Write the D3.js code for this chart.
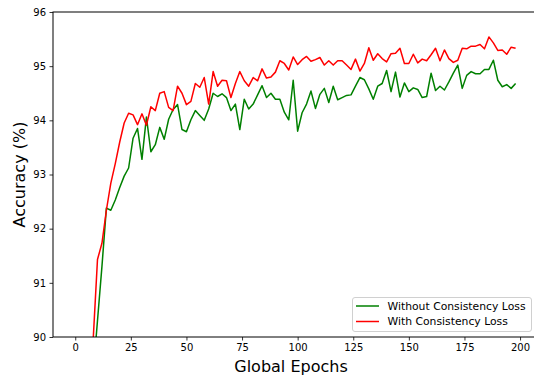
<!DOCTYPE html>
<html>
<head>
<meta charset="utf-8">
<script src="https://cdn.jsdelivr.net/npm/d3@7"></script>
<style>
  body { margin: 0; background: #fff; }
  svg { display: block; font-family: "DejaVu Sans", sans-serif; }
</style>
</head>
<body>
<div id="chart"></div>
<script>

// global epochs, sampled every 2 epochs
var epochs = d3.range(0, 200, 2);

var withoutConsistency = [
  35, 55, 72, 82, 89.3, 90.3, 91.3, 92.38, 92.34, 92.53,
  92.76, 92.97, 93.12, 93.67, 93.85, 93.28, 94.06, 93.42, 93.55, 93.87,
  93.65, 94.02, 94.2, 94.29, 93.83, 93.79, 94.01, 94.18, 94.09, 94.0,
  94.21, 94.5, 94.44, 94.49, 94.42, 94.18, 94.3, 93.83, 94.39, 94.21,
  94.3, 94.47, 94.64, 94.42, 94.5, 94.39, 94.39, 94.15, 94.01, 94.74,
  93.8, 94.14, 94.3, 94.54, 94.22, 94.48, 94.59, 94.33, 94.63, 94.38,
  94.42, 94.46, 94.47, 94.63, 94.79, 94.75, 94.58, 94.39, 94.63, 94.68,
  94.92, 94.53, 94.89, 94.43, 94.69, 94.53, 94.6, 94.57, 94.42, 94.44,
  94.87, 94.55, 94.63, 94.56, 94.71, 94.87, 95.02, 94.59, 94.83, 94.9,
  94.86, 94.86, 94.94, 94.94, 95.11, 94.74, 94.62, 94.66, 94.59, 94.68
];

var withConsistency = [
  40, 62, 78, 86, 89.9, 91.43, 91.73, 92.34, 92.84, 93.2,
  93.6, 93.95, 94.13, 94.1, 93.92, 94.12, 93.91, 94.25, 94.18, 94.5,
  94.53, 94.24, 94.18, 94.63, 94.5, 94.29, 94.35, 94.68, 94.61, 94.79,
  94.3, 94.9, 94.63, 94.74, 94.73, 94.42, 94.68, 94.9, 94.73, 94.63,
  94.79, 94.73, 94.95, 94.78, 94.8, 94.89, 95.1, 95.05, 94.93, 95.17,
  95.03, 95.12, 95.18, 95.09, 95.12, 95.16, 95.02, 95.1, 95.02, 95.1,
  95.1, 95.02, 94.94, 95.13, 94.91, 95.05, 95.34, 95.11, 95.23, 95.14,
  95.08, 95.23, 95.24, 95.33, 95.05, 95.05, 95.22, 95.06, 95.13, 95.1,
  95.21, 95.33, 95.1, 95.3, 95.14, 95.07, 95.11, 95.33, 95.32, 95.37,
  95.37, 95.4, 95.32, 95.54, 95.43, 95.29, 95.3, 95.22, 95.35, 95.33
];

var seriesNames = ["Without Consistency Loss", "With Consistency Loss"];
var seriesColors = ["green", "red"];

var xTicks = [0, 25, 50, 75, 100, 125, 150, 175, 200];
var yTicks = [90, 91, 92, 93, 94, 95, 96];

var width = 534, height = 375;
var plot = { left: 53, top: 12, right: 542.3, bottom: 337 };

var x = d3.scaleLinear().domain([-10, 210]).range([plot.left, plot.right]);
var y = d3.scaleLinear().domain([90, 96]).range([plot.bottom, plot.top]);

var svg = d3.select("#chart")
  .append("svg")
  .attr("width", width)
  .attr("height", height);

svg.append("clipPath")
    .attr("id", "plot-clip")
  .append("rect")
    .attr("x", plot.left)
    .attr("y", plot.top)
    .attr("width", plot.right - plot.left)
    .attr("height", plot.bottom - plot.top);

// lines
var line = d3.line()
  .x(function(d) { return x(d[0]); })
  .y(function(d) { return y(d[1]); });

[withoutConsistency, withConsistency].forEach(function(values, i) {
  svg.append("path")
    .datum(epochs.map(function(e, j) { return [e, values[j]]; }))
    .attr("clip-path", "url(#plot-clip)")
    .attr("fill", "none")
    .attr("stroke", seriesColors[i])
    .attr("stroke-width", 1.5)
    .attr("stroke-linejoin", "round")
    .attr("d", line);
});

// axes
var xAxis = svg.append("g")
  .attr("transform", "translate(0," + plot.bottom + ")")
  .call(d3.axisBottom(x).tickValues(xTicks).tickFormat(d3.format("d"))
    .tickSize(3.5).tickPadding(3.5).tickSizeOuter(0));

var yAxis = svg.append("g")
  .attr("transform", "translate(" + plot.left + ",0)")
  .call(d3.axisLeft(y).tickValues(yTicks).tickFormat(d3.format("d"))
    .tickSize(3.5).tickPadding(3.5).tickSizeOuter(0));

[xAxis, yAxis].forEach(function(g) {
  g.select(".domain").remove();
  g.selectAll("text")
    .style("font-family", "DejaVu Sans, sans-serif")
    .style("font-size", "10px")
    .attr("fill", "#000");
  g.selectAll("line").attr("stroke", "#000").attr("stroke-width", 0.8);
});

// frame
svg.append("rect")
  .attr("x", plot.left)
  .attr("y", plot.top)
  .attr("width", plot.right - plot.left)
  .attr("height", plot.bottom - plot.top)
  .attr("fill", "none")
  .attr("stroke", "#000")
  .attr("stroke-width", 1);

// axis titles
svg.append("text")
  .attr("x", 291)
  .attr("y", 372)
  .attr("text-anchor", "middle")
  .style("font-size", "16px")
  .text("Global Epochs");

svg.append("text")
  .attr("transform", "translate(25," + ((plot.top + plot.bottom) / 2) + ") rotate(-90)")
  .attr("text-anchor", "middle")
  .style("font-size", "16px")
  .text("Accuracy (%)");

// legend
var legend = svg.append("g").attr("transform", "translate(352.5,297.5)");

legend.append("rect")
  .attr("width", 179)
  .attr("height", 34)
  .attr("rx", 2.5)
  .attr("fill", "#fff")
  .attr("fill-opacity", 0.8)
  .attr("stroke", "#d0d0d0")
  .attr("stroke-width", 1);

seriesNames.forEach(function(name, i) {
  var row = legend.append("g").attr("transform", "translate(0," + (8.5 + i * 15.5) + ")");
  row.append("line")
    .attr("x1", 3.5).attr("x2", 26.5)
    .attr("stroke", seriesColors[i])
    .attr("stroke-width", 1.5);
  row.append("text")
    .attr("x", 35)
    .attr("y", 3.8)
    .style("font-size", "10.8px")
    .text(name);
});

</script>
</body>
</html>
